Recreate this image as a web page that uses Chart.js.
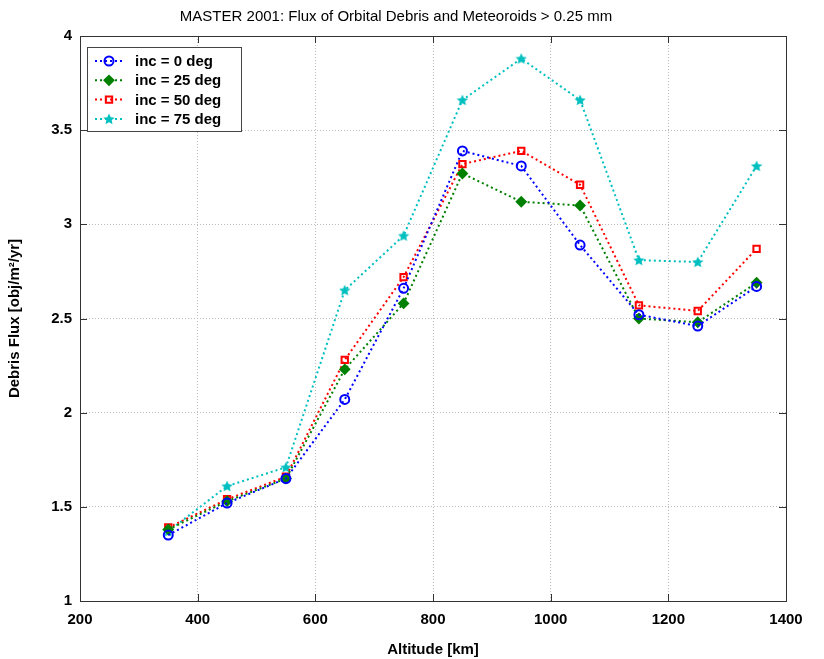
<!DOCTYPE html>
<html>
<head>
<meta charset="utf-8">
<script src="https://cdn.jsdelivr.net/npm/chart.js@4.4.1/dist/chart.umd.min.js"></script>
<style>
  html, body { margin: 0; padding: 0; background: #fff; }
  #wrap { width: 824px; height: 659px; }
</style>
</head>
<body>
<div id="wrap"><canvas id="fluxChart" width="824" height="659"></canvas></div>
<script>
// Altitude samples and flux per inclination
const altitudes = [350, 450, 550, 650, 750, 850, 950, 1050, 1150, 1250, 1350];
const inc0  = [1.35, 1.52, 1.65, 2.07, 2.66, 3.39, 3.31, 2.89, 2.52, 2.46, 2.67];
const inc25 = [1.38, 1.53, 1.65, 2.23, 2.58, 3.27, 3.12, 3.10, 2.50, 2.48, 2.69];
const inc50 = [1.39, 1.54, 1.66, 2.28, 2.72, 3.32, 3.39, 3.21, 2.57, 2.54, 2.87];
const inc75 = [1.37, 1.61, 1.71, 2.65, 2.94, 3.66, 3.88, 3.66, 2.81, 2.80, 3.31];
const xTicks = [200, 400, 600, 800, 1000, 1200, 1400];
const yTicks = [1, 1.5, 2, 2.5, 3, 3.5, 4];

const FONT = '"Liberation Sans", Arial, sans-serif';

// filled pentagram marker
function starMarker(color) {
    const c = document.createElement('canvas');
    c.width = 12; c.height = 12;
    const g = c.getContext('2d');
    g.fillStyle = color;
    g.beginPath();
    for (let i = 0; i < 10; i++) {
        const r = i % 2 === 0 ? 6 : 2.8;
        const a = -Math.PI / 2 + i * Math.PI / 5;
        const px = 6 + r * Math.cos(a), py = 6.5 + r * Math.sin(a);
        if (i === 0) g.moveTo(px, py); else g.lineTo(px, py);
    }
    g.closePath();
    g.fill();
    return c;
}

function series(label, values, color, style, radius, fill) {
    return {
        label: label,
        data: values.map((v, i) => ({ x: altitudes[i], y: v })),
        borderColor: color,
        backgroundColor: fill ? color : '#fff',
        pointBorderColor: color,
        pointBackgroundColor: fill ? color : 'rgba(0,0,0,0)',
        pointStyle: style,
        pointRadius: radius,
        pointBorderWidth: 2,
        borderWidth: 2,
        borderDash: [2, 3],
        tension: 0,
        fill: false
    };
}

// legend box inside the plot area, MATLAB style
const boxLegend = {
    id: 'boxLegend',
    afterDraw(chart) {
        const ctx = chart.ctx;
        const area = chart.chartArea;
        const x0 = area.left + 7, y0 = area.top + 11;
        const w = 154, h = 84, rowH = 19.3;
        ctx.save();
        ctx.fillStyle = '#fff';
        ctx.fillRect(x0, y0, w, h);
        ctx.strokeStyle = '#444';
        ctx.lineWidth = 1;
        ctx.strokeRect(x0 + 0.5, y0 + 0.5, w, h);
        chart.data.datasets.forEach((ds, i) => {
            const cy = y0 + 14 + i * rowH;
            ctx.strokeStyle = ds.borderColor;
            ctx.lineWidth = 2;
            ctx.setLineDash([2, 3]);
            ctx.beginPath();
            ctx.moveTo(x0 + 8, cy);
            ctx.lineTo(x0 + 37, cy);
            ctx.stroke();
            ctx.setLineDash([]);
            ctx.fillStyle = ds.pointBackgroundColor;
            ctx.strokeStyle = ds.pointBorderColor;
            Chart.helpers.drawPoint(ctx, {
                pointStyle: ds.pointStyle,
                radius: ds.pointRadius,
                borderWidth: 2,
                rotation: 0
            }, x0 + 22, cy);
            ctx.fillStyle = '#000';
            ctx.font = 'bold 15px ' + FONT;
            ctx.textBaseline = 'middle';
            ctx.fillText(ds.label, x0 + 48, cy + 1);
        });
        ctx.restore();
    }
};

// plot frame with inward ticks on all four sides
const frame = {
    id: 'frame',
    afterDatasetsDraw(chart) {
        const ctx = chart.ctx;
        const a = chart.chartArea;
        const xs = chart.scales.x, ys = chart.scales.y;
        ctx.save();
        ctx.strokeStyle = '#333';
        ctx.lineWidth = 1;
        ctx.strokeRect(a.left + 0.5, a.top + 0.5, a.right - a.left, a.bottom - a.top);
        ctx.beginPath();
        xTicks.forEach(v => {
            const px = Math.round(xs.getPixelForValue(v)) + 0.5;
            ctx.moveTo(px, a.bottom); ctx.lineTo(px, a.bottom - 7);
            ctx.moveTo(px, a.top); ctx.lineTo(px, a.top + 7);
        });
        yTicks.forEach(v => {
            const py = Math.round(ys.getPixelForValue(v)) + 0.5;
            ctx.moveTo(a.left, py); ctx.lineTo(a.left + 7, py);
            ctx.moveTo(a.right, py); ctx.lineTo(a.right - 7, py);
        });
        ctx.stroke();
        ctx.restore();
    }
};

new Chart(document.getElementById('fluxChart').getContext('2d'), {
    type: 'line',
    data: {
        datasets: [
            series('inc = 0 deg', inc0, '#0000ff', 'circle', 4.5, false),
            series('inc = 25 deg', inc25, '#008000', 'rectRot', 4.5, true),
            series('inc = 50 deg', inc50, '#ff0000', 'rect', 4.5, false),
            series('inc = 75 deg', inc75, '#00bfbf', starMarker('#00bfbf'), 6, true)
        ]
    },
    options: {
        responsive: false,
        animation: false,
        layout: { padding: { top: 2, right: 38, bottom: 0, left: 6 } },
        plugins: {
            legend: { display: false },
            tooltip: { enabled: false },
            title: {
                display: true,
                text: 'MASTER 2001: Flux of Orbital Debris and Meteoroids > 0.25 mm',
                color: '#000',
                font: { family: FONT, size: 15, weight: 'normal' },
                padding: { top: 6, bottom: 10 }
            }
        },
        scales: {
            x: {
                type: 'linear',
                min: 200,
                max: 1400,
                afterBuildTicks: s => { s.ticks = xTicks.map(v => ({ value: v })); },
                grid: { color: '#bbb', lineWidth: 1, drawTicks: false },
                border: { display: false, dash: [1, 2] },
                ticks: {
                    color: '#000', padding: 10,
                    font: { family: FONT, size: 15, weight: 'bold' },
                    callback: v => String(v)
                },
                title: {
                    display: true,
                    text: 'Altitude [km]',
                    color: '#000',
                    padding: { top: 2, bottom: 0 },
                    font: { family: FONT, size: 15, weight: 'bold' }
                }
            },
            y: {
                min: 1,
                max: 4,
                afterBuildTicks: s => { s.ticks = yTicks.map(v => ({ value: v })); },
                afterFit: s => { s.width = 74; },
                grid: { color: '#bbb', lineWidth: 1, drawTicks: false },
                border: { display: false, dash: [1, 2] },
                ticks: {
                    color: '#000', padding: 8,
                    font: { family: FONT, size: 15, weight: 'bold' },
                    callback: v => String(v)
                },
                title: {
                    display: true,
                    text: 'Debris Flux [obj/m\u00b2/yr]',
                    color: '#000',
                    padding: { top: 0, bottom: 4 },
                    font: { family: FONT, size: 15, weight: 'bold' }
                }
            }
        }
    },
    plugins: [frame, boxLegend]
});
</script>
</body>
</html>
